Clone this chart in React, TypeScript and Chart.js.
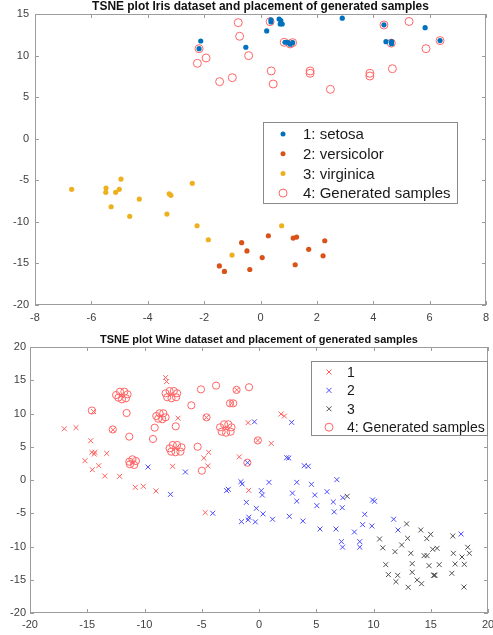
import React, { useEffect, useRef } from "react";
import { Chart, registerables } from "chart.js";

Chart.register(...registerables);

// ---------------- Iris (top) ----------------
const irisTitle = "TSNE plot Iris dataset and placement of generated samples";
const irisXTicks = { min: -8, max: 8, step: 2 };
const irisYTicks = { min: -20, max: 15, step: 5 };

const setosaX = [-2.12, -2.18, -0.52, 0.22, 0.37, 0.37, 0.66, 0.72, 0.77, 0.7, 0.87, 0.96, 1.05, 1.14, 2.9, 4.38, 4.45, 4.65, 4.65, 5.84, 6.37];
const setosaY = [11.75, 10.83, 11.0, 12.96, 14.3, 14.05, 14.4, 14.2, 13.8, 13.8, 11.6, 11.6, 11.36, 11.55, 14.5, 13.7, 11.67, 11.67, 11.43, 13.36, 11.8];

const versicolorX = [-0.67, -0.48, -1.46, -1.28, -0.38, 0.06, 0.28, 1.16, 1.28, 1.23, 1.71, 2.22, 2.28];
const versicolorY = [-12.5, -13.5, -15.3, -15.96, -15.73, -14.3, -11.67, -11.95, -11.83, -15.16, -13.3, -14.08, -12.27];

const virginicaX = [-6.7, -5.48, -5.49, -5.14, -5.01, -4.95, -5.3, -4.64, -4.3, -3.32, -3.24, -3.18, -2.42, -2.25, -1.85, -1.01, 0.75];
const virginicaY = [-6.09, -5.93, -6.45, -6.45, -6.09, -4.85, -8.18, -9.34, -7.26, -9.06, -6.62, -6.81, -5.37, -10.47, -12.15, -14.0, -10.47];

const irisGenX = [-2.18, -2.24, -1.93, -1.45, -1.0, -0.79, -0.74, -0.42, 0.34, 0.84, 1.05, 1.14, 0.38, 0.45, 1.76, 1.76, 2.48, 3.88, 3.88, 4.38, 4.64, 4.68, 5.27, 5.87, 6.37];
const irisGenY = [10.83, 9.07, 9.71, 6.86, 7.34, 13.96, 12.32, 9.99, 14.08, 11.6, 11.4, 11.55, 8.15, 6.58, 8.15, 7.87, 5.94, 7.87, 7.54, 13.68, 11.5, 8.42, 14.1, 10.83, 11.8];

const irisLabels = ["1: setosa", "2: versicolor", "3: virginica", "4: Generated samples"];

// ---------------- Wine (bottom) ----------------
const wineTitle = "TSNE plot Wine dataset and placement of generated samples";
const wineXTicks = { min: -20, max: 20, step: 5 };
const wineYTicks = { min: -20, max: 20, step: 5 };

const wine1X = [-17.0, -15.98, -14.7, -14.6, -14.33, -14.39, -15.2, -14.56, -13.99, -13.3, -13.47, -12.17, -10.8, -10.1, -9.0, -14.45, -8.16, -8.07, -7.07, -7.55, -4.82, -4.4, -4.47, -1.72, -0.95, 1.93, 2.22, 1.07, -4.7, -0.9, -12.75, -12.0, -7.7, -8.6, -7.3, -11.05, -2.9, -2.4, -4.6, -1.95, -0.1];
const wine1Y = [7.7, 7.87, 5.9, 4.16, 4.16, 3.9, 2.9, 1.55, 2.15, 4.0, 0.6, 0.55, -1.1, -0.95, -1.65, 10.3, 15.4, 14.8, 9.3, 2.06, 3.3, 4.16, 2.12, 3.48, 8.62, 9.92, 9.62, 5.5, -4.9, -1.55, 7.55, 12.7, 12.85, 9.6, 4.75, 2.7, 7.75, 11.55, 9.4, 13.55, 5.95];

const wine2X = [-9.69, -7.73, -6.43, -4.04, -2.83, -2.68, -1.58, -1.47, -1.1, -1.53, -0.95, -0.89, -0.32, -0.23, 0.35, 1.18, 0.2, 0.29, 0.87, -0.4, -1.0, 2.42, 2.85, 2.6, 3.95, 4.3, 6.8, 4.58, 3.3, 2.92, 3.3, 2.65, 3.83, 4.87, 5.05, 5.94, 6.49, 7.32, 6.57, 7.27, 5.33, 6.72, 7.2, 7.3, 8.8, 8.8, 8.33, 9.23, 9.05, 9.86, 9.92, 10.09, 11.76, 12.14, 17.65];
const wine2Y = [1.95, -2.16, 1.2, -5.0, -1.6, -1.4, -0.25, -0.6, -3.36, -6.27, -6.0, -5.6, -6.3, -4.26, -5.1, -5.9, -1.6, -2.26, -0.35, 8.75, 2.6, 3.36, 8.67, 3.3, 2.15, 2.06, 0.05, -0.65, -0.35, -1.98, -3.18, -5.46, -6.17, -2.26, -3.86, -1.76, -3.3, -2.66, -4.8, -4.16, -7.37, -7.37, -9.27, -10.1, -9.27, -10.1, -7.82, -5.16, -6.72, -6.92, -3.0, -3.2, -5.9, -7.52, -8.12];

const wine3X = [7.7, 12.89, 14.13, 14.99, 14.65, 16.93, 10.53, 10.81, 11.88, 12.46, 12.98, 13.26, 14.42, 14.68, 15.17, 15.55, 16.98, 18.23, 18.37, 17.73, 11.07, 13.38, 14.85, 15.74, 17.13, 17.93, 11.3, 12.11, 13.38, 15.25, 15.37, 15.3, 16.84, 11.96, 13.03, 13.81, 14.19, 17.9];
const wine3Y = [-2.45, -6.6, -7.52, -8.17, -8.82, -8.42, -8.87, -10.2, -10.78, -9.77, -8.77, -11.02, -11.38, -11.38, -10.42, -10.27, -11.02, -10.12, -11.02, -11.58, -12.73, -12.58, -12.88, -12.73, -12.63, -12.68, -14.23, -14.33, -13.88, -14.33, -14.33, -14.3, -14.03, -15.29, -16.14, -15.04, -15.6, -16.1];

const wineGenX = [
  -12.48, -12.14, -11.76, -11.48, -11.62, -11.97, -12.28,
  -8.16, -7.81, -7.44, -7.15, -7.24, -7.64, -8.02,
  -8.97, -8.68, -8.36, -8.16, -8.45, -8.8,
  -7.81, -7.53, -7.15, -6.77, -6.86, -7.29, -7.67,
  -11.33, -11.05, -10.75, -10.9, -11.27,
  -3.4, -3.05, -2.68, -2.4, -2.48, -2.88, -3.26,
  -2.53, -2.25,
  -14.6, -11.56, -12.77, -11.33, -9.11, -7.27, -9.26, -5.91, -5.07, -3.75, -1.96, -0.87, -4.58, -5.36, -4.99, -0.1, -1.02,
];
const wineGenY = [
  12.78, 13.28, 13.28, 12.88, 12.29, 12.13, 12.38,
  13.04, 13.38, 13.38, 13.04, 12.44, 12.29, 12.44,
  9.62, 10.03, 10.03, 9.43, 9.13, 9.22,
  4.77, 5.26, 5.26, 4.92, 4.26, 4.17, 4.26,
  2.75, 3.11, 2.86, 2.26, 2.36,
  7.92, 8.38, 8.38, 7.92, 7.26, 7.11, 7.26,
  11.53, 11.53,
  10.45, 10.07, 7.6, 6.52, 7.87, 8.07, 6.17, 11.23, 13.63, 14.19, 13.55, 13.95, 9.42, 5.0, 1.4, 5.95, 2.6,
];

const wineLabels = ["1", "2", "3", "4: Generated samples"];

// ---------------- styles ----------------
const C_SETOSA = "#0072BD";
const C_VERSI = "#D95319";
const C_VIRG = "#EDB120";
const C_GEN = "#ff6565";
const C_W1 = "#ff5e5e";
const C_W2 = "#4b4bff";
const C_W3 = "#505050";
const AXIS_COLOR = "#9c9c9c";
const TICK_TEXT = "#404040";
const FONT = "'Liberation Sans', Arial, Helvetica, sans-serif";

const zip = (xs: number[], ys: number[]) => xs.map((x, i) => ({ x, y: ys[i] }));

function drawMarker(ctx: CanvasRenderingContext2D, kind: string, color: string, x: number, y: number) {
  ctx.save();
  if (kind === "dot") {
    ctx.fillStyle = color;
    ctx.beginPath();
    ctx.arc(x, y, 2.5, 0, Math.PI * 2);
    ctx.fill();
  } else if (kind === "circle") {
    ctx.strokeStyle = color;
    ctx.lineWidth = 1;
    ctx.beginPath();
    ctx.arc(x, y, 4, 0, Math.PI * 2);
    ctx.stroke();
  } else {
    ctx.strokeStyle = color;
    ctx.lineWidth = 1;
    ctx.beginPath();
    ctx.moveTo(x - 2.5, y - 2.5);
    ctx.lineTo(x + 2.5, y + 2.5);
    ctx.moveTo(x + 2.5, y - 2.5);
    ctx.lineTo(x - 2.5, y + 2.5);
    ctx.stroke();
  }
  ctx.restore();
}

const matlabPlugin = {
  id: "matlabLook",
  beforeDatasetsDraw(chart: any) {
    const ctx = chart.ctx as CanvasRenderingContext2D;
    const { left, right, top, bottom } = chart.chartArea;
    ctx.save();
    ctx.strokeStyle = AXIS_COLOR;
    ctx.lineWidth = 1;
    ctx.strokeRect(Math.round(left) + 0.5, Math.round(top) + 0.5, Math.round(right - left) - 1, Math.round(bottom - top) - 1);
    const xs = chart.scales.x;
    const ys = chart.scales.y;
    const tl = 4;
    ctx.beginPath();
    xs.ticks.forEach((t: any) => {
      const p = Math.round(xs.getPixelForValue(t.value)) + 0.5;
      ctx.moveTo(p, bottom);
      ctx.lineTo(p, bottom - tl);
      ctx.moveTo(p, top);
      ctx.lineTo(p, top + tl);
    });
    ys.ticks.forEach((t: any) => {
      const p = Math.round(ys.getPixelForValue(t.value)) + 0.5;
      ctx.moveTo(left, p);
      ctx.lineTo(left + tl, p);
      ctx.moveTo(right, p);
      ctx.lineTo(right - tl, p);
    });
    ctx.stroke();
    ctx.restore();
  },
  afterDraw(chart: any, _args: any, opts: any) {
    const ctx = chart.ctx as CanvasRenderingContext2D;
    const { left, right } = chart.chartArea;
    ctx.save();
    // title
    ctx.font = `bold 10px ${FONT}`;
    const w10 = ctx.measureText(opts.title).width;
    const size = (10 * opts.titleWidth) / w10;
    ctx.font = `bold ${size.toFixed(2)}px ${FONT}`;
    ctx.fillStyle = "#111";
    ctx.textAlign = "center";
    ctx.textBaseline = "middle";
    ctx.fillText(opts.title, (left + right) / 2, opts.titleY);

    // legend
    const lg = opts.legend;
    ctx.fillStyle = "#ffffff";
    ctx.fillRect(lg.x, lg.y, lg.w, lg.h);
    ctx.strokeStyle = "#8a8a8a";
    ctx.lineWidth = 1;
    ctx.strokeRect(lg.x + 0.5, lg.y + 0.5, lg.w, lg.h);
    ctx.font = `${lg.fontSize}px ${FONT}`;
    ctx.textAlign = "left";
    ctx.textBaseline = "middle";
    lg.items.forEach((it: any, i: number) => {
      const yy = lg.firstRow + i * lg.rowGap;
      drawMarker(ctx, it.kind, it.color, lg.markerX, yy);
      ctx.fillStyle = "#1a1a1a";
      ctx.fillText(it.label, lg.textX, yy + 1);
    });
    ctx.restore();
  },
};

function makeScales(xt: any, yt: any, yWidth: number, xHeight: number, yPad: number, xPad: number) {
  const tickFont = { family: FONT, size: 11 };
  return {
    x: {
      type: "linear",
      min: xt.min,
      max: xt.max,
      grid: { display: false, drawTicks: false },
      border: { display: false },
      ticks: { stepSize: xt.step, color: TICK_TEXT, font: tickFont, padding: xPad, autoSkip: false, maxRotation: 0 },
      afterFit: (s: any) => {
        s.height = xHeight;
        s.paddingLeft = 0;
        s.paddingRight = 0;
      },
    },
    y: {
      type: "linear",
      min: yt.min,
      max: yt.max,
      grid: { display: false, drawTicks: false },
      border: { display: false },
      ticks: { stepSize: yt.step, color: TICK_TEXT, font: tickFont, padding: yPad, autoSkip: false },
      afterFit: (s: any) => {
        s.width = yWidth;
        s.paddingTop = 0;
        s.paddingBottom = 0;
      },
    },
  };
}

function useChart(ref: React.RefObject<HTMLCanvasElement>, build: () => any) {
  useEffect(() => {
    if (!ref.current) return;
    const chart = new Chart(ref.current, build());
    return () => chart.destroy();
  }, []);
}

export default function App() {
  const topRef = useRef<HTMLCanvasElement>(null);
  const botRef = useRef<HTMLCanvasElement>(null);

  useEffect(() => {
    document.body.style.margin = "0";
    document.body.style.background = "#ffffff";
  }, []);

  useChart(topRef, () => ({
    type: "scatter",
    data: {
      datasets: [
        { label: irisLabels[0], data: zip(setosaX, setosaY), pointStyle: "circle", pointRadius: 2.6, backgroundColor: C_SETOSA, borderWidth: 0 },
        { label: irisLabels[1], data: zip(versicolorX, versicolorY), pointStyle: "circle", pointRadius: 2.6, backgroundColor: C_VERSI, borderWidth: 0 },
        { label: irisLabels[2], data: zip(virginicaX, virginicaY), pointStyle: "circle", pointRadius: 2.6, backgroundColor: C_VIRG, borderWidth: 0 },
        { label: irisLabels[3], data: zip(irisGenX, irisGenY), pointStyle: "circle", pointRadius: 4, backgroundColor: "rgba(0,0,0,0)", borderColor: C_GEN, borderWidth: 1 },
      ],
    },
    options: {
      responsive: false,
      animation: false,
      devicePixelRatio: 1,
      events: [],
      layout: { padding: { top: 14, right: 7, left: 0, bottom: 0 } },
      scales: makeScales(irisXTicks, irisYTicks, 35, 20, 6, 6),
      plugins: {
        legend: { display: false },
        tooltip: { enabled: false },
        matlabLook: {
          title: irisTitle,
          titleWidth: 337,
          titleY: 7,
          legend: {
            x: 263, y: 122, w: 194, h: 81,
            fontSize: 15, markerX: 283, textX: 303, firstRow: 134, rowGap: 19.7,
            items: [
              { label: irisLabels[0], kind: "dot", color: C_SETOSA },
              { label: irisLabels[1], kind: "dot", color: C_VERSI },
              { label: irisLabels[2], kind: "dot", color: C_VIRG },
              { label: irisLabels[3], kind: "circle", color: C_GEN },
            ],
          },
        },
      },
    },
    plugins: [matlabPlugin],
  }));

  useChart(botRef, () => ({
    type: "scatter",
    data: {
      datasets: [
        { label: wineLabels[0], data: zip(wine1X, wine1Y), pointStyle: "crossRot", pointRadius: 3.5, borderColor: C_W1, borderWidth: 1 },
        { label: wineLabels[1], data: zip(wine2X, wine2Y), pointStyle: "crossRot", pointRadius: 3.5, borderColor: C_W2, borderWidth: 1 },
        { label: wineLabels[2], data: zip(wine3X, wine3Y), pointStyle: "crossRot", pointRadius: 3.5, borderColor: C_W3, borderWidth: 1 },
        { label: wineLabels[3], data: zip(wineGenX, wineGenY), pointStyle: "circle", pointRadius: 3.6, backgroundColor: "rgba(0,0,0,0)", borderColor: C_GEN, borderWidth: 1 },
      ],
    },
    options: {
      responsive: false,
      animation: false,
      devicePixelRatio: 1,
      events: [],
      layout: { padding: { top: 22, right: 2, left: 0, bottom: 0 } },
      scales: makeScales(wineXTicks, wineYTicks, 30, 22, 4, 5),
      plugins: {
        legend: { display: false },
        tooltip: { enabled: false },
        matlabLook: {
          title: wineTitle,
          titleWidth: 318,
          titleY: 15,
          legend: {
            x: 311, y: 36, w: 176, h: 74,
            fontSize: 14, markerX: 329, textX: 347, firstRow: 47, rowGap: 18.4,
            items: [
              { label: wineLabels[0], kind: "cross", color: C_W1 },
              { label: wineLabels[1], kind: "cross", color: C_W2 },
              { label: wineLabels[2], kind: "cross", color: C_W3 },
              { label: wineLabels[3], kind: "circle", color: C_GEN },
            ],
          },
        },
      },
    },
    plugins: [matlabPlugin],
  }));

  return (
    <div style={{ position: "relative", width: 493, height: 635, background: "#fff", overflow: "hidden" }}>
      <canvas ref={topRef} width={493} height={325} style={{ position: "absolute", left: 0, top: 0, width: 493, height: 325 }} />
      <canvas ref={botRef} width={493} height={310} style={{ position: "absolute", left: 0, top: 325, width: 493, height: 310 }} />
    </div>
  );
}
